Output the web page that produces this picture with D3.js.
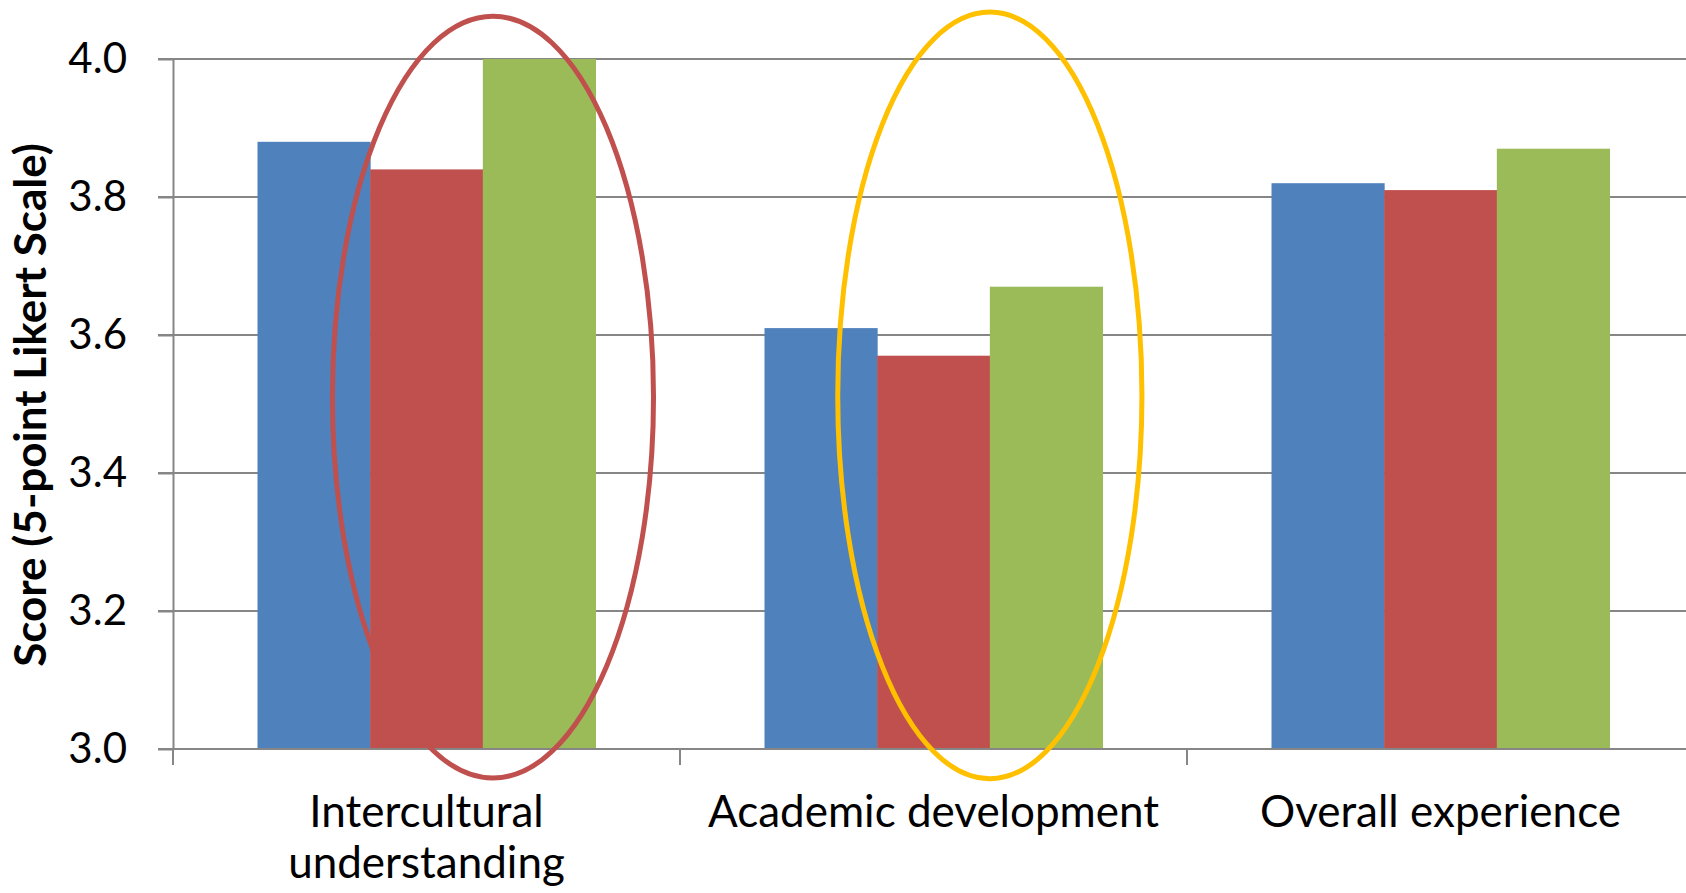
<!DOCTYPE html>
<meta charset="utf-8">

<head>
  <script src="https://d3js.org/d3.v7.min.js"></script>
  <style>
    body {
      margin: 0;
      background: #fff;
      font-family: Lato, "Open Sans", sans-serif;
    }

    .grid line {
      stroke: #868686;
      stroke-width: 2;
    }

    .axis path,
    .axis line {
      stroke: #868686;
      stroke-width: 2;
    }

    .axis text {
      fill: #000;
    }
  </style>
</head>

<body>
  <script>

    // categories and series values
    var categories = ["Intercultural understanding", "Academic development", "Overall experience"];
    var series = ["Series 1", "Series 2", "Series 3"];
    var seriesColor = ["#4F81BD", "#C0504D", "#9BBB59"];
    var series1 = [3.88, 3.61, 3.82];
    var series2 = [3.84, 3.57, 3.81];
    var series3 = [4.00, 3.67, 3.87];
    var yTicks = [3.0, 3.2, 3.4, 3.6, 3.8, 4.0];
    var yTitle = "Score (5-point Likert Scale)";

    // ellipse call-outs: centre in bar widths from the start of the group, half width in bar widths
    var ringCategory = ["Intercultural understanding", "Academic development"];
    var ringCenterBars = [2.09, 2.0];
    var ringHalfBars = [1.425, 1.35];
    var ringTop = [4.062, 4.068];
    var ringBottom = [2.958, 2.957];
    var ringColor = ["#C0504D", "#FFC000"];

    var values = [series1, series2, series3];

    var margin = { top: 59, left: 173, bottom: 144 },
      svgWidth = 1686,
      svgHeight = 893,
      plotRight = 1694,
      height = svgHeight - margin.top - margin.bottom;

    var svg = d3.select("body")
      .append("svg")
      .attr("width", svgWidth)
      .attr("height", svgHeight);

    var x = d3.scaleBand()
      .domain(categories)
      .range([margin.left, plotRight])
      .paddingInner(0)
      .paddingOuter(0);

    // gap width 150% of a bar, split either side
    var gap = x.bandwidth() * 1.5 / (series.length + 1.5);
    var xInner = d3.scaleBand()
      .domain(d3.range(series.length))
      .range([gap / 2, x.bandwidth() - gap / 2]);
    var barW = xInner.bandwidth();

    var y = d3.scaleLinear()
      .domain([3.0, 4.0])
      .range([margin.top + height, margin.top]);

    // gridlines
    svg.append("g")
      .attr("class", "grid")
      .selectAll("line")
      .data(yTicks)
      .enter()
      .append("line")
      .attr("x1", margin.left - 15)
      .attr("x2", plotRight)
      .attr("y1", function (d) { return y(d); })
      .attr("y2", function (d) { return y(d); });

    // bars
    var groups = svg.append("g")
      .selectAll("g")
      .data(categories)
      .enter()
      .append("g")
      .attr("transform", function (c) { return "translate(" + x(c) + ",0)"; });

    groups.selectAll("rect")
      .data(function (c, ci) {
        return values.map(function (v, si) { return { s: si, v: v[ci] }; });
      })
      .enter()
      .append("rect")
      .attr("x", function (d) { return xInner(d.s); })
      .attr("width", barW + 0.5)
      .attr("y", function (d) { return y(d.v); })
      .attr("height", function (d) { return y(3.0) - y(d.v); })
      .style("fill", function (d) { return seriesColor[d.s]; });

    // y axis
    var yAxis = svg.append("g")
      .attr("class", "axis")
      .attr("transform", "translate(" + margin.left + ",0)")
      .call(d3.axisLeft(y)
        .tickValues(yTicks)
        .tickFormat(d3.format(".1f"))
        .tickSize(15)
        .tickSizeOuter(0)
        .tickPadding(31));
    yAxis.selectAll("text")
      .style("font-size", "42px")
      .style("font-family", "Lato, 'Open Sans', sans-serif");

    // x axis line and category boundary ticks
    var xAxis = svg.append("g").attr("class", "axis");
    xAxis.append("line")
      .attr("x1", margin.left)
      .attr("x2", plotRight)
      .attr("y1", y(3.0))
      .attr("y2", y(3.0));
    xAxis.selectAll(".bound")
      .data(categories)
      .enter()
      .append("line")
      .attr("class", "bound")
      .attr("x1", function (c) { return x(c); })
      .attr("x2", function (c) { return x(c); })
      .attr("y1", y(3.0))
      .attr("y2", y(3.0) + 16);

    // category labels, wrapped to the band width
    var labels = xAxis.selectAll(".cat")
      .data(categories)
      .enter()
      .append("text")
      .attr("class", "cat")
      .attr("x", function (c) { return x(c) + x.bandwidth() / 2; })
      .attr("y", y(3.0) + 78)
      .attr("text-anchor", "middle")
      .style("font-size", "44px")
      .style("font-family", "Lato, 'Open Sans', sans-serif");

    labels.each(function (c) {
      var el = d3.select(this);
      var words = c.split(" ");
      var line = [];
      var tspan = el.append("tspan").attr("x", el.attr("x")).attr("dy", 0);
      words.forEach(function (w) {
        line.push(w);
        tspan.text(line.join(" "));
        if (tspan.node().getComputedTextLength() > x.bandwidth() * 0.98 && line.length > 1) {
          line.pop();
          tspan.text(line.join(" "));
          line = [w];
          tspan = el.append("tspan").attr("x", el.attr("x")).attr("dy", 51).text(w);
        }
      });
    });

    // y axis title
    svg.append("text")
      .attr("transform", "translate(46," + (margin.top + height / 2 + 1) + ") rotate(-90)")
      .attr("text-anchor", "middle")
      .style("font-size", "44px")
      .style("font-weight", "bold")
      .style("font-family", "Lato, 'Open Sans', sans-serif")
      .text(yTitle);

    // call-out ellipses
    ringCategory.forEach(function (c, i) {
      var groupStart = x(c) + xInner(0);
      svg.append("ellipse")
        .attr("cx", groupStart + ringCenterBars[i] * barW)
        .attr("cy", (y(ringTop[i]) + y(ringBottom[i])) / 2)
        .attr("rx", ringHalfBars[i] * barW)
        .attr("ry", (y(ringBottom[i]) - y(ringTop[i])) / 2)
        .style("fill", "none")
        .style("stroke", ringColor[i])
        .style("stroke-width", 5);
    });

  </script>
</body>

</html>
